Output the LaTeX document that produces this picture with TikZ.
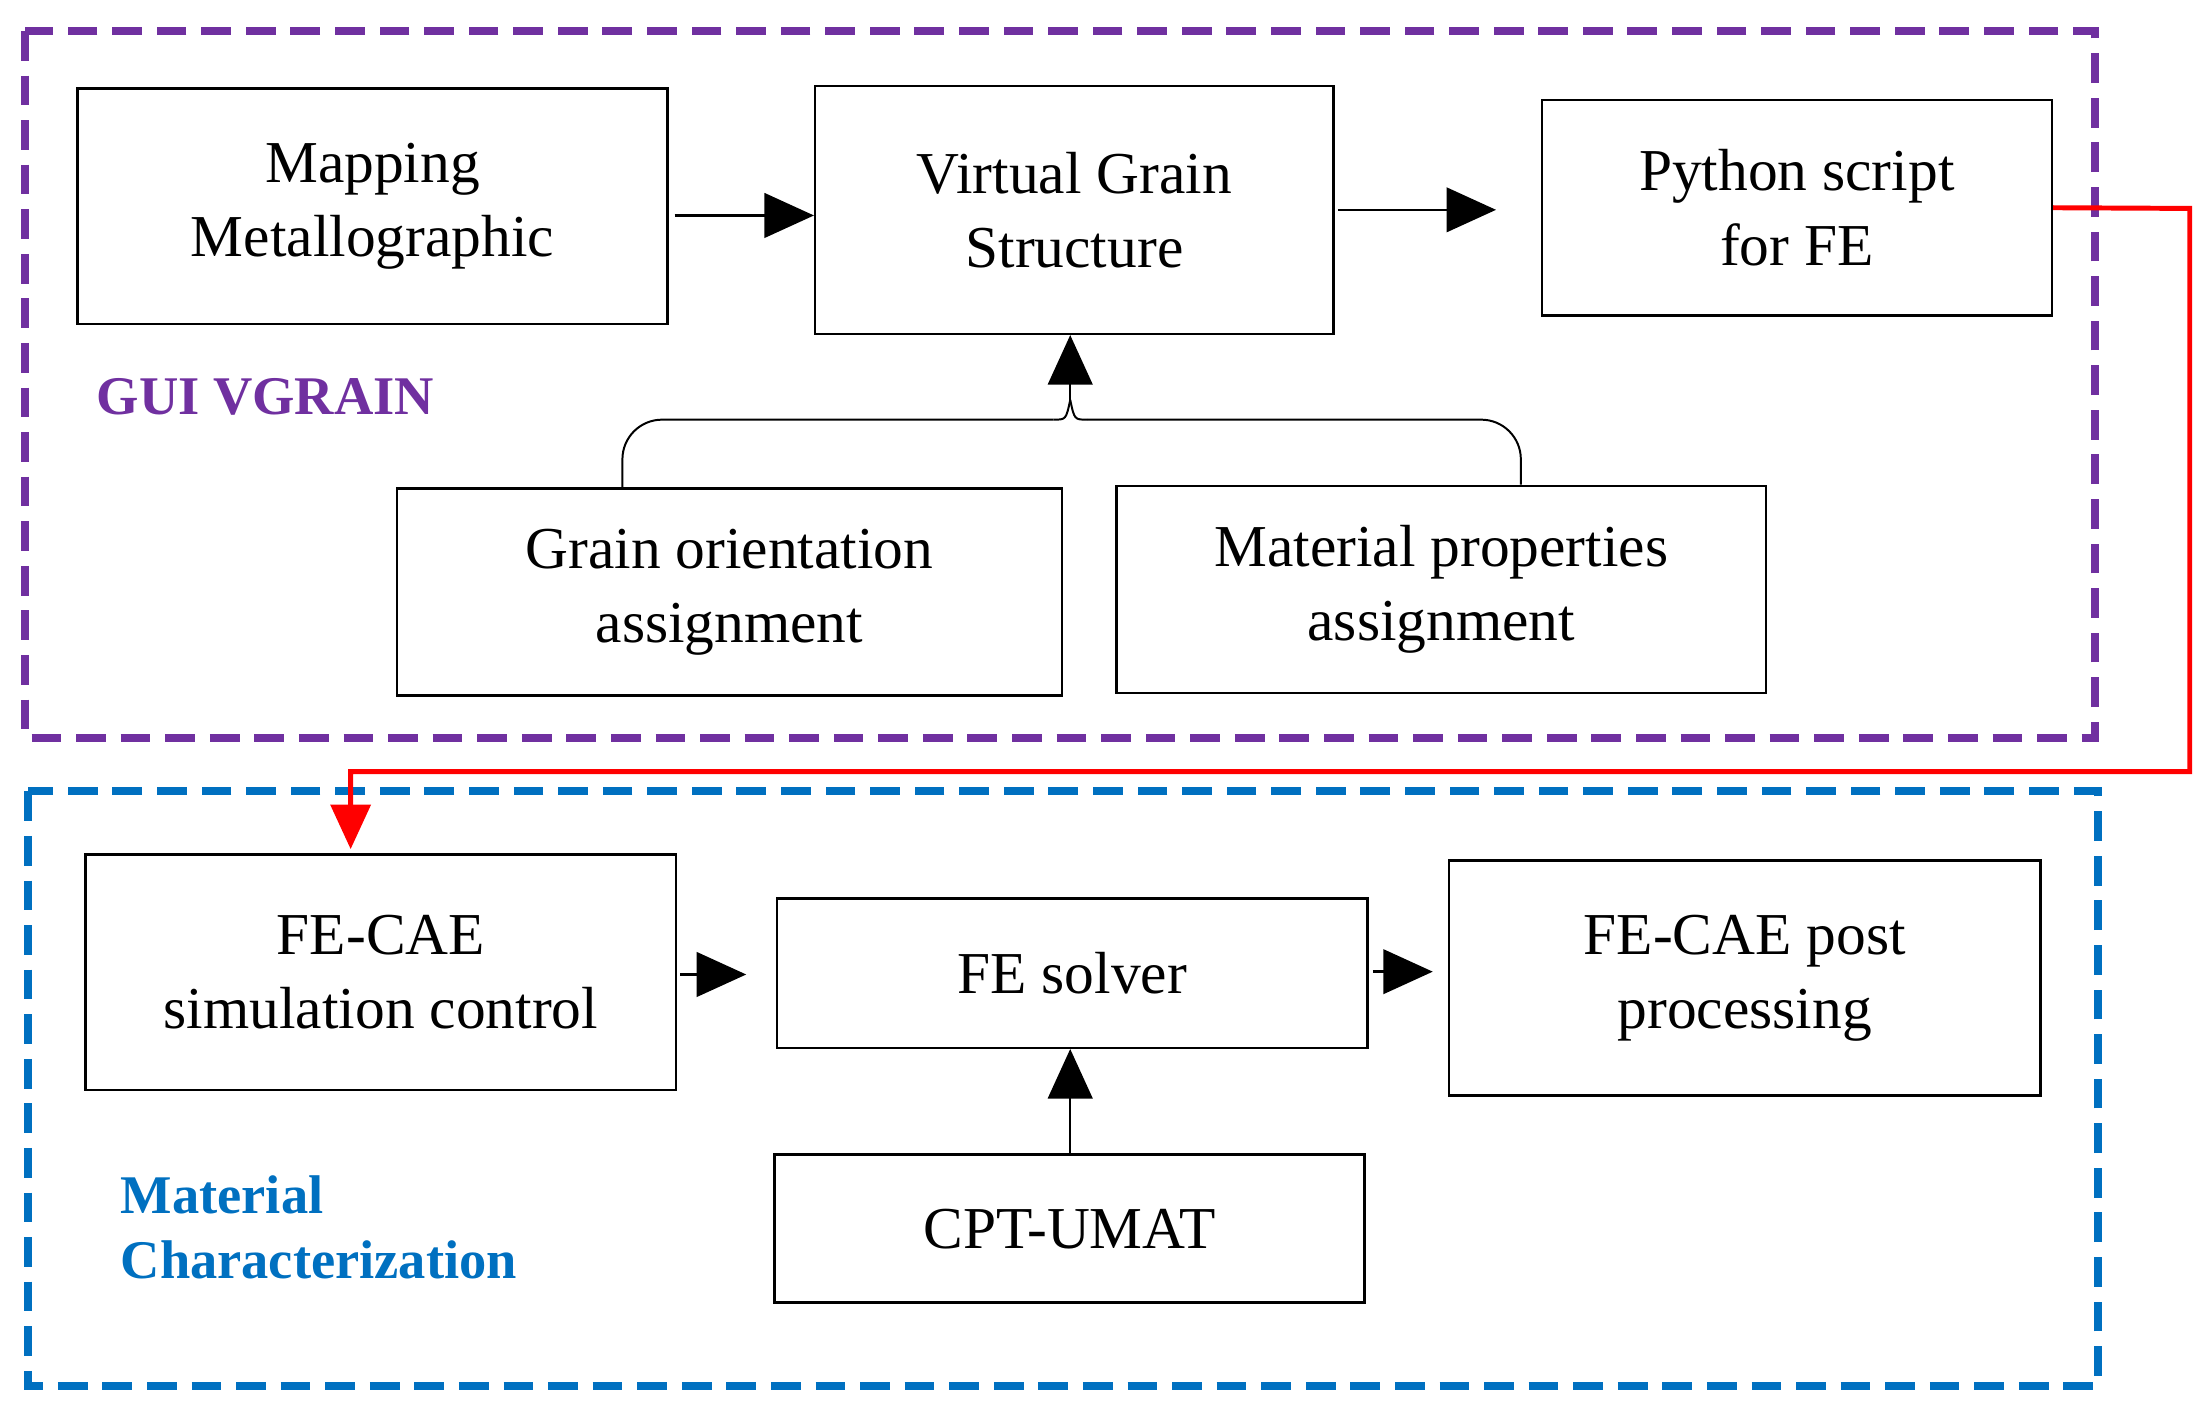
\documentclass[tikz,border=0pt]{standalone}
\usepackage{fontspec}
\setmainfont{Liberation Serif}
\usetikzlibrary{arrows.meta}
\definecolor{vpurple}{RGB}{112,48,160}
\definecolor{vblue}{RGB}{0,112,192}
\begin{document}
\begin{tikzpicture}[x=0.01cm,y=-0.01cm,
  box/.style={draw,line width=0.5pt,inner sep=0,align=center,font=\fontsize{12}{15}\selectfont},
  arr/.style={-{Triangle[length=10pt,width=9pt]},line width=0.5pt},
  grp/.style={dashed,line width=1.6pt,dash pattern=on 6pt off 3pt}]
\useasboundingbox (0,0) rectangle (1563,999);
\draw[grp,vpurple] (18,22) rectangle (1488,524);
\draw[grp,vblue] (20,562) rectangle (1490,984);
\node[box,minimum width=4.19cm,minimum height=1.67cm] (map) at (264.5,146.5) {Mapping\\Metallographic};
\node[box,minimum width=3.68cm,minimum height=1.76cm] (vgs) at (763,149) {Virtual Grain\\Structure};
\node[box,minimum width=3.62cm,minimum height=1.53cm] (py) at (1276,147.5) {Python script\\for FE};
\node[box,minimum width=4.72cm,minimum height=1.47cm] (go) at (518,420.5) {Grain orientation\\assignment};
\node[box,minimum width=4.61cm,minimum height=1.47cm] (mp) at (1023.5,418.5) {Material properties\\assignment};
\node[box,minimum width=4.19cm,minimum height=1.67cm] (fec) at (270.5,690.5) {FE-CAE\\simulation control};
\node[box,minimum width=4.19cm,minimum height=1.06cm] (fes) at (761.5,691) {FE solver};
\node[box,minimum width=4.20cm,minimum height=1.67cm] (fep) at (1239,694.5) {FE-CAE post\\processing};
\node[box,minimum width=4.19cm,minimum height=1.05cm] (cpt) at (759.5,872.5) {CPT-UMAT};
\node[anchor=west,text=vpurple,font=\fontsize{11}{12}\selectfont\bfseries,inner sep=0] (gui) at (68,282) {GUI VGRAIN};
\node[anchor=north west,text=vblue,align=left,font=\fontsize{11}{13.2}\selectfont\bfseries,inner sep=0] (mc) at (85,834) {Material\\Characterization};
\coordinate (a1) at (479,153);
\draw[arr] (a1) -- (a1 -| vgs.west);
\coordinate (a2) at (950,149);
\draw[arr] (a2) -- ([xshift=-9]a2 -| py.west);
\draw[rounded corners=8] (go.north -| 442,0) -- (442,298) -- (748,298);
\draw (748,298) .. controls (757,298) .. (760,284);
\draw[rounded corners=8] (mp.north -| 1080,0) -- (1080,298) -- (772,298);
\draw (772,298) .. controls (763,298) .. (760,284);
\draw[arr] (760,284) -- (vgs.south -| 760,0);
\draw[red,line width=1pt,-{Triangle[length=9pt,width=8pt]}] (py.east) -- (1555,148) -- (1555,548) -- (249,548) -- (249,603);
\coordinate (a3) at (483,692);
\draw[arr] (a3) -- ([xshift=-6]a3 -| fes.west);
\coordinate (a4) at (975,690);
\draw[arr] (a4) -- ([xshift=-3]a4 -| fep.west);
\draw[arr] (cpt.north -| 760,0) -- (fes.south -| 760,0);
\end{tikzpicture}
\end{document}
